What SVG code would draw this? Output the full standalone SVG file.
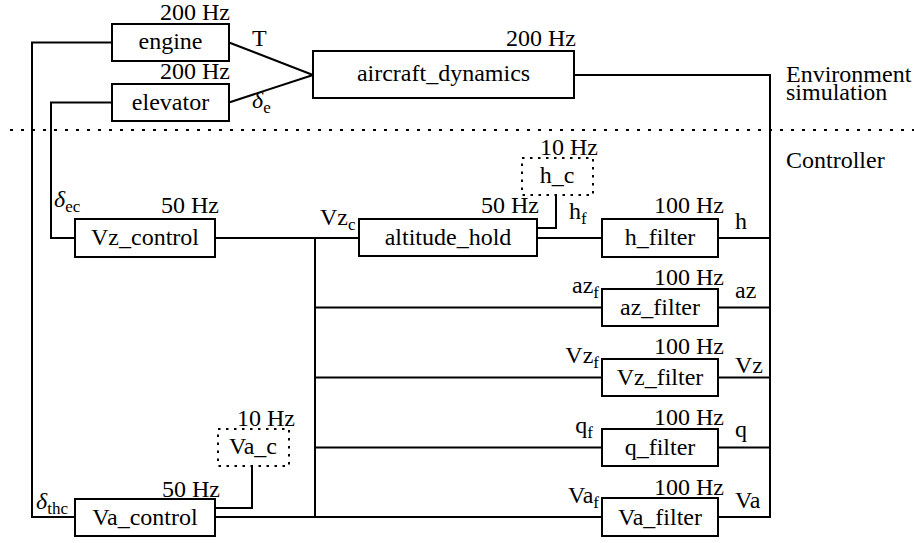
<svg xmlns="http://www.w3.org/2000/svg" width="914" height="543" viewBox="0 0 914 543">
<style>
text{font-family:"Liberation Serif","Times New Roman","DejaVu Serif",serif;font-size:24px;fill:#000}
.m{text-anchor:middle}
.e{text-anchor:end}
.sub{font-size:17px}
.it{font-style:italic}
.box{fill:#fff;stroke:#000;stroke-width:2}
.dbox{fill:none;stroke:#000;stroke-width:2;stroke-dasharray:2.5 5.5}
.w{fill:none;stroke:#000;stroke-width:2}
.sep{fill:none;stroke:#000;stroke-width:2;stroke-dasharray:3 8}
</style>
<rect width="914" height="543" fill="#fff"/>
<g id="connectors">
<path class="w" d="M112,42.5 H32 V517 H75"/>
<path class="w" d="M112,102.5 H51 V238 H75"/>
<path class="w" d="M229,42.5 L313,75 M229,102.5 L313,75"/>
<path class="w" d="M574,75 H770 V517 H718"/>
<path class="w" d="M215,238 H359"/>
<path class="w" d="M315,238 V517"/>
<path class="w" d="M537,238 H602"/>
<path class="w" d="M537,228 H556 V195"/>
<path class="w" d="M718,238 H770 M718,307.5 H770 M718,377.5 H770 M718,447.5 H770"/>
<path class="w" d="M315,307.5 H602 M315,377.5 H602 M315,447.5 H602"/>
<path class="w" d="M215,517 H602"/>
<path class="w" d="M215,508 H252 V466"/>
<text x="252" y="46">T</text>
<text x="252" y="108"><tspan class="it">δ</tspan><tspan class="sub" dy="5">e</tspan></text>
<text x="54" y="207"><tspan class="it">δ</tspan><tspan class="sub" dy="5">ec</tspan></text>
<text x="36" y="509"><tspan class="it">δ</tspan><tspan class="sub" dy="5">thc</tspan></text>
<text x="320" y="225">Vz<tspan class="sub" dy="5">c</tspan></text>
<text x="569" y="219">h<tspan class="sub" dy="5">f</tspan></text>
<text x="735" y="229">h</text>
<text class="e" x="599" y="293">az<tspan class="sub" dy="5">f</tspan></text>
<text x="735" y="298">az</text>
<text class="e" x="599" y="363">Vz<tspan class="sub" dy="5">f</tspan></text>
<text x="735" y="373">Vz</text>
<text class="e" x="593" y="433">q<tspan class="sub" dy="5">f</tspan></text>
<text x="735" y="437">q</text>
<text class="e" x="599" y="503">Va<tspan class="sub" dy="5">f</tspan></text>
<text x="735" y="508">Va</text>
</g>
<path class="sep" d="M10,130 H914"/>
<text x="786" y="82">Environment</text>
<text x="786" y="100">simulation</text>
<text x="786" y="168">Controller</text>
<g id="engine">
<rect class="box" x="112" y="24" width="117" height="37"/>
<text class="m" x="170.5" y="49">engine</text>
<text class="e" x="230" y="20">200 Hz</text>
</g>
<g id="elevator">
<rect class="box" x="112" y="84" width="117" height="37"/>
<text class="m" x="170.5" y="110">elevator</text>
<text class="e" x="230" y="79">200 Hz</text>
</g>
<g id="aircraft_dynamics">
<rect class="box" x="313" y="51" width="261" height="47"/>
<text class="m" x="443.5" y="81">aircraft_dynamics</text>
<text class="e" x="576" y="46">200 Hz</text>
</g>
<g id="h_c">
<rect class="dbox" x="522" y="158" width="71" height="37"/>
<text class="m" x="557" y="183">h_c</text>
<text class="e" x="598" y="155">10 Hz</text>
</g>
<g id="Vz_control">
<rect class="box" x="75" y="219" width="140" height="38"/>
<text class="m" x="145" y="245">Vz_control</text>
<text class="e" x="219" y="213">50 Hz</text>
</g>
<g id="altitude_hold">
<rect class="box" x="359" y="219" width="178" height="37"/>
<text class="m" x="448" y="245">altitude_hold</text>
<text class="e" x="539" y="213">50 Hz</text>
</g>
<g id="h_filter">
<rect class="box" x="602" y="219" width="116" height="38"/>
<text class="m" x="660" y="245">h_filter</text>
<text class="e" x="724" y="213">100 Hz</text>
</g>
<g id="az_filter">
<rect class="box" x="602" y="289" width="116" height="37"/>
<text class="m" x="660" y="315">az_filter</text>
<text class="e" x="724" y="285">100 Hz</text>
</g>
<g id="Vz_filter">
<rect class="box" x="602" y="359" width="116" height="37"/>
<text class="m" x="660" y="385">Vz_filter</text>
<text class="e" x="724" y="354">100 Hz</text>
</g>
<g id="q_filter">
<rect class="box" x="602" y="429" width="116" height="37"/>
<text class="m" x="660" y="455">q_filter</text>
<text class="e" x="724" y="425">100 Hz</text>
</g>
<g id="Va_filter">
<rect class="box" x="602" y="498" width="116" height="38"/>
<text class="m" x="660" y="525">Va_filter</text>
<text class="e" x="724" y="495">100 Hz</text>
</g>
<g id="Va_c">
<rect class="dbox" x="218" y="429" width="71" height="37"/>
<text class="m" x="253" y="454">Va_c</text>
<text class="e" x="295" y="426">10 Hz</text>
</g>
<g id="Va_control">
<rect class="box" x="75" y="499" width="140" height="37"/>
<text class="m" x="145" y="525">Va_control</text>
<text class="e" x="220" y="497">50 Hz</text>
</g>
</svg>
